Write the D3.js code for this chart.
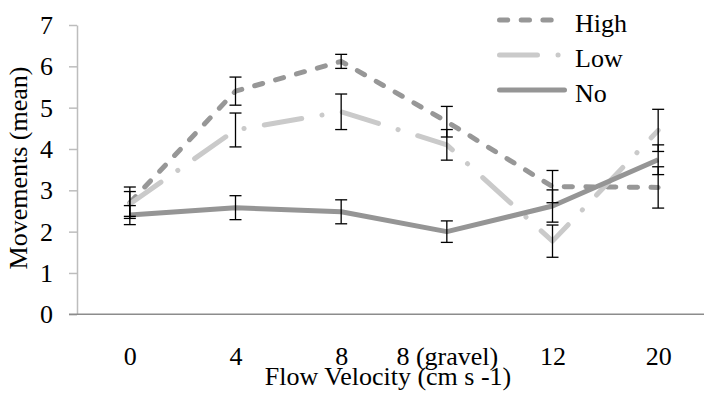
<!DOCTYPE html>
<html>
<head>
<meta charset="utf-8">
<script src="https://cdn.jsdelivr.net/npm/d3@7"></script>
<style>
  html, body { margin: 0; padding: 0; background: #fff; }
  svg { display: block; }
  svg text { font-family: "Liberation Serif", "Times New Roman", Times, "DejaVu Serif", serif; fill: #000; }
</style>
</head>
<body>
<svg id="chart" width="704" height="398"></svg>
<script>
// Flow velocity treatments
const categories = ["0", "4", "8", "8 (gravel)", "12", "20"];

// Mean movements per treatment and their error bars
const highValues = [2.70, 5.40, 6.12, 4.66, 3.09, 3.07];
const highErrors = [0.38, 0.34, 0.17, 0.37, 0.39, 0.50];
const lowValues  = [2.67, 4.46, 4.90, 4.10, 1.77, 4.45];
const lowErrors  = [0.30, 0.41, 0.43, 0.37, 0.39, 0.51];
const noValues   = [2.40, 2.58, 2.48, 2.00, 2.62, 3.74];
const noErrors   = [0.23, 0.29, 0.29, 0.26, 0.39, 0.36];

const yTicks = [0, 1, 2, 3, 4, 5, 6, 7];

const series = [
  { name: "High", values: highValues, errors: highErrors, color: "#979797", dash: "8.3 13.4" },
  { name: "Low",  values: lowValues,  errors: lowErrors,  color: "#cacaca", dash: "38 20.5 0.1 20.5" },
  { name: "No",   values: noValues,   errors: noErrors,   color: "#959595", dash: null }
];

const svg = d3.select("#chart");
const fontSize = 26;

const x = d3.scalePoint().domain(categories).range([77, 711]).padding(0.5);
const y = d3.scaleLinear().domain([0, 7]).range([314.3, 25]);

// Y axis
const yAxis = svg.append("g")
  .attr("transform", "translate(77,0)")
  .call(d3.axisLeft(y).tickValues(yTicks).tickFormat(d3.format("d"))
    .tickSize(8).tickSizeOuter(0).tickPadding(16));
yAxis.attr("font-family", null);
yAxis.select(".domain").attr("stroke", "#bdbdbd").attr("stroke-width", 1.5);
yAxis.selectAll(".tick line").attr("stroke", "#bdbdbd").attr("stroke-width", 1.5);
yAxis.selectAll(".tick text")
  .attr("font-size", fontSize)
  .attr("dy", "0.33em");

// X axis line
svg.append("line")
  .attr("x1", 69).attr("x2", 704)
  .attr("y1", y(0)).attr("y2", y(0))
  .attr("stroke", "#8c8c8c").attr("stroke-width", 1.5);

// X axis labels
const xAxis = svg.append("g")
  .attr("transform", `translate(0,${y(0)})`)
  .call(d3.axisBottom(x).tickSize(0).tickSizeOuter(0));
xAxis.attr("font-family", null);
xAxis.select(".domain").remove();
xAxis.selectAll(".tick text")
  .attr("font-size", fontSize)
  .attr("y", 51).attr("dy", 0);

// Axis titles
svg.append("text")
  .attr("x", 388).attr("y", 385)
  .attr("text-anchor", "middle")
  .attr("font-size", fontSize)
  .text("Flow Velocity (cm s -1)");

svg.append("text")
  .attr("transform", "translate(27,168) rotate(-90)")
  .attr("text-anchor", "middle")
  .attr("font-size", fontSize)
  .text("Movements (mean)");

// Series lines
const line = d3.line()
  .x((d, i) => x(categories[i]))
  .y(d => y(d));

series.forEach(s => {
  svg.append("path")
    .datum(s.values)
    .attr("d", line)
    .attr("fill", "none")
    .attr("stroke", s.color)
    .attr("stroke-width", 5)
    .attr("stroke-linecap", s.dash ? "round" : "butt")
    .attr("stroke-linejoin", "round")
    .attr("stroke-dasharray", s.dash);
});

// Error bars
const capHalf = 6;
series.forEach(s => {
  const g = svg.append("g").attr("stroke", "#000").attr("stroke-width", 1.3);
  s.values.forEach((v, i) => {
    const cx = x(categories[i]);
    const top = y(v + s.errors[i]);
    const bot = y(v - s.errors[i]);
    g.append("line").attr("x1", cx).attr("x2", cx).attr("y1", top).attr("y2", bot);
    g.append("line").attr("x1", cx - capHalf).attr("x2", cx + capHalf).attr("y1", top).attr("y2", top);
    g.append("line").attr("x1", cx - capHalf).attr("x2", cx + capHalf).attr("y1", bot).attr("y2", bot);
  });
});

// Legend
const legend = svg.append("g");
series.forEach((s, i) => {
  const ly = 20 + i * 35;
  legend.append("line")
    .attr("x1", 499.5).attr("x2", 564.5)
    .attr("y1", ly).attr("y2", ly)
    .attr("stroke", s.color)
    .attr("stroke-width", 5)
    .attr("stroke-linecap", "round")
    .attr("stroke-dasharray", s.dash);
  legend.append("text")
    .attr("x", 575).attr("y", ly + 12)
    .attr("font-size", fontSize)
    .text(s.name);
});
</script>
</body>
</html>
